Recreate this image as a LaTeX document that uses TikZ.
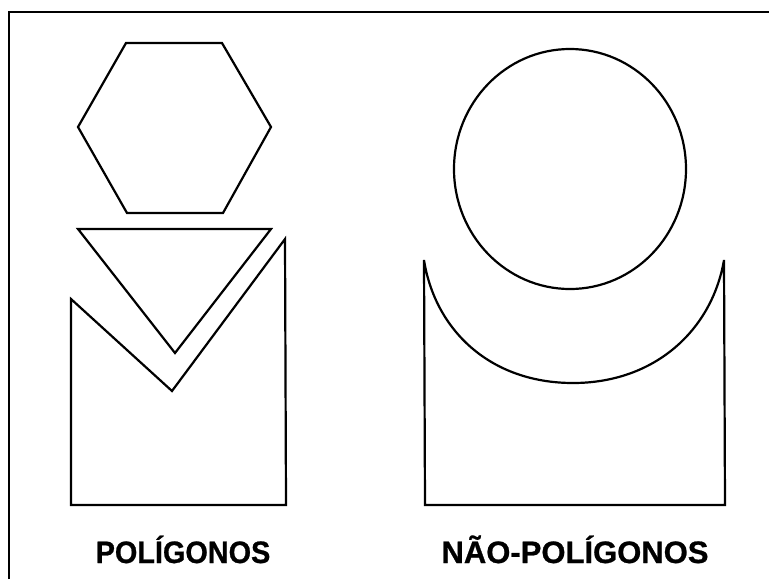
\documentclass[tikz,border=0pt]{standalone}
\usepackage{fontspec}
\setmainfont{Liberation Sans}
\newfontfamily\narrowbold[FakeStretch=0.93,FakeBold=0.8]{Liberation Sans Bold}
\newfontfamily\widebold[FakeBold=0.8]{Liberation Sans Bold}
\begin{document}
\begin{tikzpicture}[x=1pt,y=-1pt,
  shapeline/.style={line width=2.2pt,line join=miter},
  framerule/.style={line width=2.4pt},
  label/.style={anchor=base,inner sep=0pt}]
\useasboundingbox (0,0) rectangle (769,579);
% frame (top and left edges)
\draw[framerule] (9,579) -- (9,12) -- (769,12);
% hexagon
\draw[shapeline] (126,43) -- (222,43) -- (271,127) -- (223,213) -- (127,213) -- (78,127) -- cycle;
% inverted triangle
\draw[shapeline] (78,229) -- (271,229) -- (175,353) -- cycle;
% notched pentagon
\draw[shapeline] (71,299) -- (172,391) -- (285,239) -- (286,505) -- (71,505) -- cycle;
% circle
\draw[shapeline] (570,169) ellipse [x radius=116, y radius=120];
% cup shape
\draw[shapeline] (425,505) -- (424,260) .. controls (435,330) and (490,383) .. (573,383)
  .. controls (655,383) and (712,330) .. (724,260) -- (725,505) -- cycle;
% labels
\node[label,font=\narrowbold\fontsize{31}{31}\selectfont] (lp) at (183,563) {POLÍGONOS};
\node[label,font=\widebold\fontsize{31}{31}\selectfont] (lnp) at (575,563) {NÃO-POLÍGONOS};
\end{tikzpicture}
\end{document}
